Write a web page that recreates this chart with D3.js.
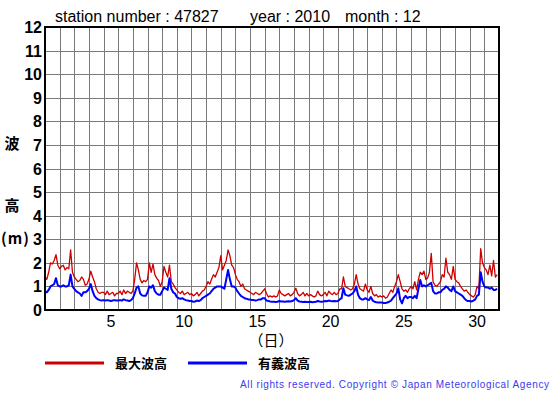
<!DOCTYPE html>
<html>
<head>
<meta charset="utf-8">
<script src="https://cdn.jsdelivr.net/npm/d3@7"></script>
<style>
  body { margin: 0; background: #fff; }
  svg text { font-family: "Liberation Sans", Arial, sans-serif; }
</style>
</head>
<body>
<svg id="chart" width="555" height="395"></svg>
<script>
var station = '47827';
var year = '2010';
var month = '12';
var stepHours = 3;
var yTicks = d3.range(0, 13);
var xTicks = [5, 10, 15, 20, 25, 30];

// 3-hourly readings, one row per day (00h..21h)
var maxWave = [
  1.4, 1.3, 1.6, 2.0, 1.95, 2.1, 2.35, 1.9,
  1.75, 1.85, 1.9, 1.7, 1.8, 1.75, 2.55, 1.6,
  1.4, 1.3, 1.2, 1.25, 1.4, 1.3, 1.05, 1.1,
  1.3, 1.65, 1.4, 1.2, 0.9, 0.75, 0.7, 0.75,
  0.75, 0.65, 0.8, 0.65, 0.7, 0.75, 0.6, 0.7,
  0.7, 0.8, 0.65, 0.85, 0.7, 0.8, 0.75, 0.7,
  0.8, 1.3, 2.0, 1.7, 1.3, 1.15, 1.25, 1.2,
  1.3, 2.0, 1.6, 1.95, 1.5, 1.35, 1.25, 1.0,
  1.2, 1.85, 1.6, 1.4, 1.9, 1.2, 1.1, 0.95,
  0.85, 0.75, 0.7, 0.8, 0.65, 0.7, 0.75, 0.65,
  0.7, 0.6, 0.65, 0.75, 0.6, 0.7, 0.8, 0.85,
  1.0, 1.2, 1.1, 1.3, 1.5, 1.4, 1.6, 1.8,
  2.3, 1.7, 1.9, 2.1, 2.55, 2.3, 1.9, 1.8,
  1.5, 1.3, 1.2, 1.0, 1.1, 0.9, 0.85, 0.8,
  0.75, 0.7, 0.65, 0.75, 0.7, 0.65, 0.7, 0.8,
  0.9, 0.7, 0.55, 0.6, 0.55, 0.6, 0.55, 0.6,
  0.85, 0.7, 0.65, 0.6, 0.65, 0.7, 0.6, 0.65,
  0.75, 0.92, 0.7, 0.6, 0.65, 0.75, 0.6, 0.7,
  0.6, 0.65, 0.6, 0.55, 0.6, 0.8, 0.65, 0.6,
  0.65, 0.75, 0.6, 0.8, 0.7, 0.65, 0.75, 0.65,
  0.7, 0.9, 0.9, 1.4, 1.0, 0.95, 0.9, 0.85,
  0.9, 1.1, 1.5, 1.1, 0.9, 0.85, 0.8, 1.1,
  0.85, 0.75, 1.0, 0.7, 0.6, 0.65, 0.55, 0.6,
  0.55, 0.6, 0.5, 0.55, 0.7, 0.85, 0.75, 1.0,
  1.2, 1.5, 1.2, 0.9, 0.8, 0.85, 0.75, 0.9,
  1.0, 0.9, 1.2, 0.85, 1.3, 1.6, 1.5, 1.65,
  1.3, 1.35, 1.6, 2.4, 1.2, 1.05, 1.0, 1.1,
  1.2, 1.5, 1.4, 2.2, 1.6, 1.5, 1.3, 1.85,
  1.3, 1.2, 1.15, 1.0, 0.9, 0.8, 0.85, 0.75,
  0.65, 0.6, 0.55, 0.65, 1.0, 0.9, 2.6, 2.0,
  1.8, 1.7, 1.5, 1.9, 1.45, 2.1, 1.4, 1.5
];

var sigWave = [
  0.8, 0.75, 0.85, 1.0, 1.05, 1.1, 1.35, 1.05,
  1.0, 1.0, 1.05, 1.0, 1.0, 1.05, 1.5, 1.0,
  0.9, 0.8, 0.75, 0.7, 0.6, 0.75, 0.75, 0.8,
  0.9, 1.1, 0.8, 0.6, 0.5, 0.45, 0.42, 0.4,
  0.42, 0.4, 0.42, 0.4, 0.38, 0.4, 0.42, 0.4,
  0.4, 0.42, 0.4, 0.45, 0.42, 0.4, 0.38, 0.42,
  0.5, 0.7, 0.95, 1.0, 0.7, 0.62, 0.6, 0.6,
  0.75, 1.0, 0.95, 1.05, 0.8, 0.7, 0.65, 0.65,
  0.8, 0.95, 0.9, 0.85, 1.35, 0.9, 0.75, 0.7,
  0.55, 0.5, 0.48, 0.5, 0.45, 0.42, 0.4, 0.38,
  0.38, 0.35, 0.36, 0.4, 0.38, 0.42, 0.5, 0.55,
  0.6, 0.65, 0.7, 0.8, 0.9, 0.95, 1.0, 1.0,
  1.0, 0.95, 0.9, 1.3, 1.7, 1.3, 1.0, 1.0,
  0.95, 0.8, 0.7, 0.6, 0.55, 0.5, 0.48, 0.45,
  0.45, 0.42, 0.42, 0.4, 0.42, 0.45, 0.45, 0.5,
  0.5, 0.4, 0.38, 0.36, 0.35, 0.35, 0.34, 0.35,
  0.38, 0.36, 0.36, 0.35, 0.36, 0.37, 0.36, 0.38,
  0.42, 0.5, 0.4, 0.36, 0.35, 0.34, 0.35, 0.34,
  0.34, 0.35, 0.33, 0.34, 0.35, 0.38, 0.36, 0.35,
  0.36, 0.38, 0.37, 0.4, 0.38, 0.37, 0.38, 0.37,
  0.38, 0.45, 0.5, 0.92, 0.65, 0.62, 0.6, 0.65,
  0.7, 0.8, 1.0, 0.65, 0.5, 0.45, 0.45, 0.5,
  0.45, 0.42, 0.55, 0.4, 0.35, 0.33, 0.32, 0.32,
  0.32, 0.3, 0.3, 0.32, 0.35, 0.4, 0.5, 0.6,
  0.7, 0.92, 0.45, 0.28, 0.5, 0.6, 0.5, 0.55,
  0.55, 0.5, 0.6, 0.5, 0.9, 1.27, 1.0, 1.05,
  1.0, 1.05, 1.1, 1.15, 0.8, 0.7, 0.7, 0.75,
  0.75, 0.85, 0.9, 1.0, 0.95, 0.85, 0.8, 1.0,
  0.8, 0.75, 0.7, 0.65, 0.6, 0.5, 0.42, 0.38,
  0.38, 0.36, 0.4, 0.45, 0.6, 0.65, 1.6, 1.2,
  1.0, 0.95, 0.95, 0.9, 0.95, 0.85, 0.85, 0.9
];

var seriesNames = ['最大波高', '有義波高'];
var seriesColors = ['#cc0000', '#0000ff'];

var svg = d3.select('#chart');
var plotLeft = 45, plotRight = 499, plotTop = 27, plotBottom = 310;

var x = d3.scaleLinear().domain([0, 31]).range([plotLeft, plotRight]);
var y = d3.scaleLinear().domain([0, 12]).range([plotBottom, plotTop]);

// title
svg.append('text').attr('x', 55).attr('y', 22)
   .style('font-size', '16px').text('station number : ' + station);
svg.append('text').attr('x', 250).attr('y', 22)
   .style('font-size', '16px').text('year : ' + year);
svg.append('text').attr('x', 345).attr('y', 22)
   .style('font-size', '16px').text('month : ' + month);

// grid
var grid = svg.append('g').attr('stroke', '#7a7a7a').attr('stroke-width', 1);
grid.selectAll('.vgrid')
    .data(d3.range(1, 31))
    .enter().append('line')
    .attr('class', 'vgrid')
    .attr('x1', function(d){return Math.round(x(d)) + 0.5;})
    .attr('x2', function(d){return Math.round(x(d)) + 0.5;})
    .attr('y1', plotTop).attr('y2', plotBottom);
grid.selectAll('.hgrid')
    .data(d3.range(1, 12))
    .enter().append('line')
    .attr('class', 'hgrid')
    .attr('y1', function(d){return Math.round(y(d)) + 0.5;})
    .attr('y2', function(d){return Math.round(y(d)) + 0.5;})
    .attr('x1', plotLeft).attr('x2', plotRight);

// y ticks
svg.selectAll('.ylab')
   .data(yTicks)
   .enter().append('text')
   .attr('class', 'ylab')
   .attr('x', 42)
   .attr('y', function(d){return y(d) + 6;})
   .attr('text-anchor', 'end')
   .style('font-size', '16px')
   .style('font-weight', 'bold')
   .text(function(d){return d;});

// x ticks at centre of each day
svg.selectAll('.xlab')
   .data(xTicks)
   .enter().append('text')
   .attr('class', 'xlab')
   .attr('x', function(d){return x(d - 0.5);})
   .attr('y', 327)
   .attr('text-anchor', 'middle')
   .style('font-size', '16px')
   .text(function(d){return d;});

svg.append('text').attr('x', 271).attr('y', 346)
   .attr('text-anchor', 'middle')
   .style('font-size', '15px')
   .style('font-family', '"Noto Sans CJK JP", sans-serif')
   .text('（日）');

// y axis title
[['波', 143], ['高', 205]].forEach(function(p) {
  svg.append('text').attr('x', 12).attr('y', p[1] + 6)
     .attr('text-anchor', 'middle')
     .style('font-size', '15px').style('font-weight', 'bold')
     .style('font-family', '"Noto Sans CJK JP", sans-serif')
     .text(p[0]);
});
svg.append('text').attr('x', 1).attr('y', 244)
   .style('font-size', '15px').style('font-weight', 'bold')
   .style('letter-spacing', '1px')
   .style('font-family', '"Noto Sans CJK JP", sans-serif')
   .text('(m)');

// lines
var line = d3.line()
    .x(function(d, i){return x((i * stepHours) / 24);})
    .y(function(d){return y(d);});

svg.append('path').datum(maxWave)
   .attr('fill', 'none')
   .attr('stroke', seriesColors[0])
   .attr('stroke-width', 1.3)
   .attr('stroke-linejoin', 'round')
   .attr('d', line);
svg.append('path').datum(sigWave)
   .attr('fill', 'none')
   .attr('stroke', seriesColors[1])
   .attr('stroke-width', 2)
   .attr('stroke-linejoin', 'round')
   .attr('d', line);

// frame
svg.append('rect')
   .attr('x', plotLeft).attr('y', plotTop)
   .attr('width', plotRight - plotLeft).attr('height', plotBottom - plotTop)
   .attr('fill', 'none').attr('stroke', '#000').attr('stroke-width', 2);

// legend
var legendX = [45, 188];
seriesNames.forEach(function(name, i) {
  svg.append('line')
     .attr('x1', legendX[i]).attr('x2', legendX[i] + 59)
     .attr('y1', 363).attr('y2', 363)
     .attr('stroke', seriesColors[i]).attr('stroke-width', 3);
  svg.append('text')
     .attr('x', legendX[i] + 70).attr('y', 368)
     .style('font-size', '13px').style('font-weight', 'bold')
     .style('font-family', '"Noto Sans CJK JP", sans-serif')
     .text(name);
});

svg.append('text')
   .attr('x', 240).attr('y', 388)
   .attr('textLength', 309).attr('lengthAdjust', 'spacing')
   .style('font-size', '10px')
   .style('fill', '#3a3af0')
   .text('All rights reserved. Copyright © Japan Meteorological Agency');
</script>
</body>
</html>
